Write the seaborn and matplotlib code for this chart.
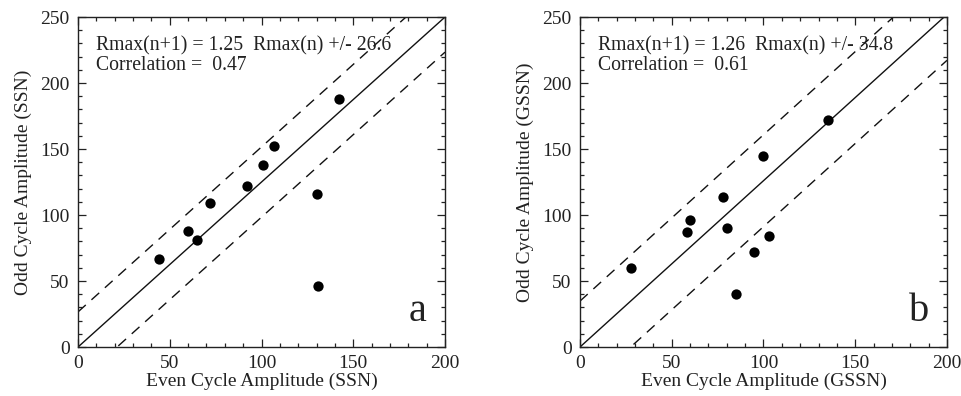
import matplotlib
matplotlib.use("Agg")
import matplotlib.pyplot as plt
import seaborn as sns
import numpy as np
import pandas as pd
from matplotlib.ticker import MultipleLocator

# ---- data ----
even_ssn = [44, 60, 65, 72, 92, 101, 107, 142, 130, 131]
odd_ssn = [67, 88, 81, 109, 122, 138, 152, 188, 116, 46]

even_gssn = [28, 58.5, 60, 78, 80, 100, 103, 95, 85, 135]
odd_gssn = [60, 87, 96, 114, 90, 145, 84, 72, 40, 172]

slopes = [1.25, 1.26]
sigmas = [26.6, 34.8]
correlations = [0.47, 0.61]
units = ["SSN", "GSSN"]
panel_letters = ["a", "b"]
x_range = [0, 200]

sns.set_theme(style="ticks")
plt.rcParams["font.family"] = ["Liberation Serif", "DejaVu Serif"]

fig = plt.figure(figsize=(9.62, 3.96), dpi=100)
ax_pos = [[0.0811, 0.1237, 0.3815, 0.8333], [0.6029, 0.1237, 0.3815, 0.8333]]

datasets = [(even_ssn, odd_ssn), (even_gssn, odd_gssn)]
for i, (xs, ys) in enumerate(datasets):
    ax = fig.add_axes(ax_pos[i])
    df = pd.DataFrame({"x": xs, "y": ys})
    lines = pd.DataFrame({"x": x_range})
    lines["fit"] = slopes[i] * lines["x"]
    lines["up"] = lines["fit"] + sigmas[i]
    lines["lo"] = lines["fit"] - sigmas[i]
    sns.lineplot(data=lines, x="x", y="fit", ax=ax, color="#111111", lw=1.0)
    sns.lineplot(data=lines, x="x", y="up", ax=ax, color="#111111", lw=1.0,
                 linestyle=(0, (7.5, 5.5)))
    sns.lineplot(data=lines, x="x", y="lo", ax=ax, color="#111111", lw=1.0,
                 linestyle=(0, (7.5, 5.5)))
    sns.scatterplot(data=df, x="x", y="y", ax=ax, color="black", s=55,
                    edgecolor="black", linewidth=0, zorder=5)
    ax.set_xlim(0, 200)
    ax.set_ylim(0, 250)
    ax.xaxis.set_major_locator(MultipleLocator(50))
    ax.yaxis.set_major_locator(MultipleLocator(50))
    ax.xaxis.set_minor_locator(MultipleLocator(10))
    ax.yaxis.set_minor_locator(MultipleLocator(10))
    ax.tick_params(which="both", direction="in", top=True, right=True,
                   colors="#222222", labelsize=14, width=0.9)
    ax.tick_params(which="major", length=6, pad=6)
    ax.tick_params(which="minor", length=3)
    for sp in ax.spines.values():
        sp.set_color("#222222")
        sp.set_linewidth(1.0)
    ax.set_xlabel(f"Even Cycle Amplitude ({units[i]})", fontsize=14, labelpad=0, color="#222222")
    ax.set_ylabel(f"Odd Cycle Amplitude ({units[i]})", fontsize=14, labelpad=6, color="#222222")
    ax.text(10, 225, f"Rmax(n+1) = {slopes[i]:.2f}  Rmax(n) +/- {sigmas[i]}",
            fontsize=14.2, color="#222222")
    ax.text(10, 210, f"Correlation =  {correlations[i]:.2f}", fontsize=14.2, color="#222222")
    ax.text(185, 20, panel_letters[i], fontsize=29, ha="center", va="baseline", color="#222222")
    ax.set_facecolor("white")

fig.savefig("out.png", dpi=100, facecolor="white")
